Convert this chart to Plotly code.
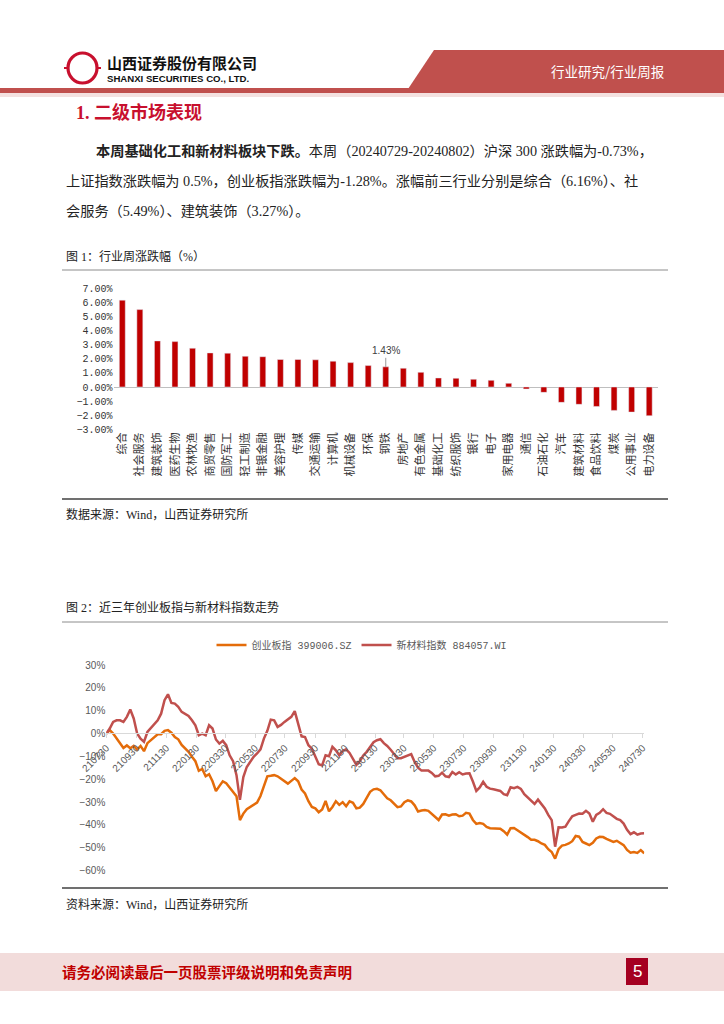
import plotly.graph_objects as go

# ---------------- data ----------------
industries = ["综合", "社会服务", "建筑装饰", "医药生物", "农林牧渔", "商贸零售", "国防军工", "轻工制造",
              "非银金融", "美容护理", "传媒", "交通运输", "计算机", "机械设备", "环保", "钢铁", "房地产",
              "有色金属", "基础化工", "纺织服饰", "银行", "电子", "家用电器", "通信", "石油石化", "汽车",
              "建筑材料", "食品饮料", "煤炭", "公用事业", "电力设备"]
weekly_change = [6.16, 5.49, 3.27, 3.22, 2.75, 2.42, 2.40, 2.18, 2.15, 1.95, 1.95, 1.93, 1.83, 1.73, 1.52,
                 1.43, 1.33, 1.04, 0.64, 0.62, 0.55, 0.47, 0.26, -0.14, -0.38, -1.09, -1.23, -1.38, -1.66,
                 -1.78, -2.04]

dates = [
    "2021-07-30", "2021-08-06", "2021-08-13", "2021-08-20", "2021-08-27", "2021-09-03", "2021-09-10",
    "2021-09-17", "2021-09-24", "2021-10-01", "2021-10-08", "2021-10-15", "2021-10-22", "2021-10-29",
    "2021-11-05", "2021-11-12", "2021-11-19", "2021-11-26", "2021-12-03", "2021-12-10", "2021-12-17",
    "2021-12-24", "2021-12-31",
    "2022-01-07", "2022-01-14", "2022-01-21", "2022-01-28", "2022-02-04", "2022-02-11", "2022-02-18",
    "2022-02-25", "2022-03-04", "2022-03-11", "2022-03-18", "2022-03-25", "2022-04-01", "2022-04-08",
    "2022-04-15", "2022-04-22", "2022-04-29", "2022-05-06", "2022-05-13", "2022-05-20", "2022-05-27",
    "2022-06-03", "2022-06-10", "2022-06-17", "2022-06-24", "2022-07-01", "2022-07-08", "2022-07-15",
    "2022-07-22", "2022-07-29", "2022-08-05", "2022-08-12", "2022-08-19", "2022-08-26", "2022-09-02",
    "2022-09-09", "2022-09-16", "2022-09-23", "2022-09-30", "2022-10-07", "2022-10-14", "2022-10-21",
    "2022-10-28", "2022-11-04", "2022-11-11", "2022-11-18", "2022-11-25", "2022-12-02", "2022-12-09",
    "2022-12-16", "2022-12-23", "2022-12-30",
    "2023-01-06", "2023-01-13", "2023-01-20", "2023-01-27", "2023-02-03", "2023-02-10", "2023-02-17",
    "2023-02-24", "2023-03-03", "2023-03-10", "2023-03-17", "2023-03-24", "2023-03-31", "2023-04-07",
    "2023-04-14", "2023-04-21", "2023-04-28", "2023-05-05", "2023-05-12", "2023-05-19", "2023-05-26",
    "2023-06-02", "2023-06-09", "2023-06-16", "2023-06-23", "2023-06-30", "2023-07-07", "2023-07-14",
    "2023-07-21", "2023-07-28", "2023-08-04", "2023-08-11", "2023-08-18", "2023-08-25", "2023-09-01",
    "2023-09-08", "2023-09-15", "2023-09-22", "2023-09-29", "2023-10-06", "2023-10-13", "2023-10-20",
    "2023-10-27", "2023-11-03", "2023-11-10", "2023-11-17", "2023-11-24", "2023-12-01", "2023-12-08",
    "2023-12-15", "2023-12-22", "2023-12-29",
    "2024-01-05", "2024-01-12", "2024-01-19", "2024-01-26", "2024-02-02", "2024-02-09", "2024-02-16",
    "2024-02-23", "2024-03-01", "2024-03-08", "2024-03-15", "2024-03-22", "2024-03-29", "2024-04-05",
    "2024-04-12", "2024-04-19", "2024-04-26", "2024-05-03", "2024-05-10", "2024-05-17", "2024-05-24",
    "2024-05-31", "2024-06-07", "2024-06-14", "2024-06-21", "2024-06-28", "2024-07-05", "2024-07-12",
    "2024-07-19", "2024-07-26", "2024-08-02"]

chinext = [
    0, 1.5, 0.0, -2.3, -4.4, -6.3, -5.2, -6.4, -5.4, -7.0,
    -5.4, -7.7, -4.2, -2.9, -1.9, -0.3, -0.3, 1.2, 1.5, 0.4,
    -1.5, -2.5, -5.0, -6.3, -8.0, -10.1, -12.1, -16.3, -15.5, -18.7,
    -17.8, -20.9, -25.2, -23.0, -20.9, -21.7, -23.5, -25.1, -27.4, -37.9,
    -35.0, -33.1, -32.1, -31.1, -30.2, -27.3, -22.7, -18.7, -18.5, -18.2,
    -18.7, -19.7, -20.7, -21.9, -20.7, -19.5, -20.9, -24.5, -26.2, -29.6,
    -32.1, -32.7, -34.4, -33.2, -29.5, -34.0, -32.1, -29.6, -31.2, -30.0,
    -31.8, -29.6, -30.3, -32.7, -32.4, -30.8, -28.1, -25.5, -24.4, -24.2,
    -24.8, -26.5, -28.3, -29.2, -30.6, -32.2, -31.9, -30.0, -29.2, -29.7,
    -31.4, -34.1, -33.7, -33.5, -33.8, -35.0, -36.2, -37.8, -35.4, -35.3,
    -35.9, -35.4, -35.3, -36.2, -35.9, -34.7, -35.0, -37.8, -39.5, -39.1,
    -39.5, -40.8, -41.4, -41.4, -41.6, -41.6, -42.7, -44.2, -41.4, -41.3,
    -42.3, -43.2, -44.2, -45.3, -46.5, -46.5, -47.1, -48.1, -48.7, -50.6,
    -51.8, -54.7, -50.6, -49.0, -48.7, -48.1, -47.1, -44.8, -45.1, -47.4,
    -48.1, -48.8, -47.8, -45.9, -45.2, -45.3, -46.1, -46.8, -47.4, -46.9,
    -47.9, -48.8, -50.9, -52.1, -51.8, -52.2, -51.0, -52.4]

new_material = [
    0, 2.2, 5.1, 5.8, 5.8, 5.1, 7.3, 10.5, 6.6, 0.0,
    -2.2, -3.6, 0.7, 2.5, 4.4, 5.8, 8.7, 14.6, 17.2, 13.4,
    13.1, 11.7, 9.5, 8.7, 7.7, 5.8, 3.6, -0.7, 0.0, -0.7,
    3.6, 2.2, -2.6, -4.4, -3.2, -5.1, -9.5, -12.1, -18.2, -29.0,
    -19.0, -14.6, -12.4, -10.2, -8.7, -6.9, -2.2, 1.2, 6.1, 5.8,
    2.9, 3.8, 5.1, 6.1, 7.3, 9.8, 4.7, -1.2, -1.5, -5.1,
    -6.6, -9.8, -13.4, -13.9, -9.5, -9.9, -5.8, -7.3, -9.5, -7.6,
    -6.9, -8.5, -11.4, -13.7, -12.1, -9.6, -8.0, -6.1, -3.8, -2.9,
    -2.5, -4.2, -5.4, -7.1, -8.9, -10.8, -10.8, -10.2, -9.8, -9.0,
    -12.4, -14.9, -16.2, -16.2, -16.2, -17.2, -18.7, -18.5, -17.1, -18.7,
    -19.0, -16.8, -17.9, -16.9, -17.9, -17.5, -17.4, -21.0, -25.1, -23.6,
    -21.1, -23.3, -24.1, -24.4, -24.8, -25.1, -26.5, -27.0, -23.5, -23.9,
    -23.3, -24.2, -26.5, -27.9, -29.5, -30.8, -28.9, -30.9, -32.8, -35.6,
    -37.9, -49.5, -41.0, -41.1, -40.7, -38.3, -36.2, -35.6, -35.0, -35.1,
    -33.8, -35.0, -38.6, -35.6, -34.7, -33.1, -34.7, -35.1, -36.2, -37.3,
    -37.9, -39.4, -42.1, -44.0, -43.2, -44.2, -43.7, -43.6]

tick_dates = ["2021-07-30", "2021-09-30", "2021-11-30", "2022-01-30", "2022-03-30", "2022-05-30",
              "2022-07-30", "2022-09-30", "2022-11-30", "2023-01-30", "2023-03-30", "2023-05-30",
              "2023-07-30", "2023-09-30", "2023-11-30", "2024-01-30", "2024-03-30", "2024-05-30",
              "2024-07-30"]
tick_labels = ["210730", "210930", "211130", "220130", "220330", "220530", "220730", "220930", "221130",
               "230130", "230330", "230530", "230730", "230930", "231130", "240130", "240330", "240530",
               "240730"]

# ---------------- page geometry helpers ----------------
W, H = 724, 1024


def px(x):
    return x / W


def py(y):
    return 1 - y / H


SANS = "Noto Sans CJK SC, sans-serif"
SERIF = "Liberation Serif, Noto Sans CJK SC, serif"

fig = go.Figure()

fig.add_trace(go.Bar(
    x=industries, y=weekly_change, marker_color="#C00000", width=0.34,
    showlegend=False, xaxis="x", yaxis="y", hoverinfo="skip"))

fig.add_trace(go.Scatter(
    x=dates, y=chinext, name="创业板指 399006.SZ", mode="lines",
    line=dict(color="#E46C0A", width=2.5), xaxis="x2", yaxis="y2"))
fig.add_trace(go.Scatter(
    x=dates, y=new_material, name="新材料指数 884057.WI", mode="lines",
    line=dict(color="#C0504D", width=2.5), xaxis="x2", yaxis="y2"))

shapes = []


def rect(x0, y0, x1, y1, fill, line_w=0, line_c=None):
    shapes.append(dict(type="rect", xref="paper", yref="paper",
                       x0=px(x0), x1=px(x1), y0=py(y1), y1=py(y0),
                       fillcolor=fill, line=dict(width=line_w, color=line_c or fill), layer="below"))


def hline(y, x0, x1, color, w):
    shapes.append(dict(type="line", xref="paper", yref="paper",
                       x0=px(x0), x1=px(x1), y0=py(y), y1=py(y),
                       line=dict(color=color, width=w)))


# header
shapes.append(dict(type="path", xref="paper", yref="paper",
                   path=f"M {px(434)},{py(50)} L {px(724)},{py(50)} L {px(724)},{py(89)} L {px(408)},{py(89)} Z",
                   fillcolor="#C0504D", line=dict(width=0), layer="below"))
rect(0, 88, 724, 93, "#C0504D")
rect(0, 93, 724, 97, "#F4E1E0")
# logo
shapes.append(dict(type="circle", xref="paper", yref="paper",
                   x0=px(68), x1=px(97), y0=py(83), y1=py(53),
                   line=dict(color="#C8102E", width=3.2), fillcolor="white"))
rect(75, 61, 90, 75, "white", 2.6, "#C8102E")
rect(79.5, 65, 85.5, 71, "#C8102E")
rect(64, 67, 75, 69, "#C8102E")
rect(90, 67, 101, 69, "#C8102E")

# figure frames
hline(270, 62, 668, "#8C8C8C", 1)
hline(499, 62, 668, "#404040", 1.4)
hline(622, 62, 668, "#8C8C8C", 1)
hline(888, 62, 668, "#404040", 1.4)

# footer
rect(0, 953, 724, 991, "#F2DCDB")
rect(626, 958, 648, 985, "#A50021")

fig.update_layout(shapes=shapes)

ann = []


def text(x, y, s, size, color="#222222", family=SERIF, anchor="left"):
    ann.append(dict(xref="paper", yref="paper", x=px(x), y=py(y), text=s, showarrow=False,
                    xanchor=anchor, yanchor="middle", align="left",
                    font=dict(size=size, color=color, family=family)))


text(105, 62, "<b>山西证券股份有限公司</b>", 15, "#111111", SANS)
text(105, 78, "<b>SHANXI SECURITIES CO., LTD.</b>", 9.6, "#111111", "Liberation Sans, Arial")
text(607, 71, "行业研究/行业周报", 13.5, "white", SANS, "center")

text(74, 112, "<b>1. 二级市场表现</b>", 18, "#C8102E", SERIF)
text(94, 151, "<b>本周基础化工和新材料板块下跌。</b>本周（20240729-20240802）沪深 300 涨跌幅为-0.73%，", 14.2, "#222222", SERIF)
text(64, 181, "上证指数涨跌幅为 0.5%，创业板指涨跌幅为-1.28%。涨幅前三行业分别是综合（6.16%）、社", 14.2, "#222222", SERIF)
text(64, 211, "会服务（5.49%）、建筑装饰（3.27%）。", 14.2, "#222222", SERIF)

text(64, 256, "图 1：行业周涨跌幅（%）", 12, "#222222", SERIF)
text(64, 514, "数据来源：Wind，山西证券研究所", 12, "#222222", SERIF)
text(64, 607, "图 2：近三年创业板指与新材料指数走势", 12, "#222222", SERIF)
text(64, 904, "资料来源：Wind，山西证券研究所", 12, "#222222", SERIF)

text(60, 971, "<b>请务必阅读最后一页股票评级说明和免责声明</b>", 14.5, "#C00000", SANS)
text(637, 971, "5", 17, "white", "Liberation Sans, Arial", "center")

# data label on 钢铁
ann.append(dict(xref="x", yref="y", x="钢铁", y=1.43, text="1.43%", showarrow=True,
                arrowhead=0, arrowwidth=0.8, arrowcolor="#808080", ax=0, ay=-16,
                font=dict(size=10, color="#404040", family="Liberation Sans, Arial")))

fig.update_layout(annotations=ann)

fig.update_layout(
    width=W, height=H, margin=dict(l=0, r=0, t=0, b=0, pad=0, autoexpand=False),
    paper_bgcolor="white", plot_bgcolor="rgba(0,0,0,0)",
    bargap=0.66,
    xaxis=dict(domain=[px(113.5), px(658)], anchor="y", type="category", tickangle=-90,
               tickfont=dict(size=11, color="#333333", family=SANS), showline=False,
               showgrid=False, ticks="", automargin=False),
    yaxis=dict(domain=[py(429.3), py(288.3)], anchor="x", range=[-3, 7], dtick=1,
               tickformat=".2f", ticksuffix="%", showgrid=False, zeroline=True,
               zerolinecolor="#BFBFBF", zerolinewidth=1, showline=False, automargin=False,
               tickfont=dict(size=10, color="#333333", family="Liberation Mono, monospace")),
    xaxis2=dict(domain=[px(106.3), px(644.2)], anchor="free", position=py(733.3), type="date",
                range=["2021-07-30", "2024-08-02"], tickvals=tick_dates, ticktext=tick_labels,
                tickangle=-45, showline=True, linecolor="#D9D9D9", linewidth=1, automargin=False,
                ticks="outside", ticklen=4, tickcolor="#D9D9D9", showgrid=False,
                tickfont=dict(size=10, color="#595959", family="Liberation Sans, Arial")),
    yaxis2=dict(domain=[py(870.7), py(665)], anchor="x2", range=[-60, 30], dtick=10,
                ticksuffix="%", showgrid=False, zeroline=False, showline=False, automargin=False,
                tickfont=dict(size=10, color="#595959", family="Liberation Sans, Arial")),
    legend=dict(orientation="h", x=px(362), xanchor="center", y=py(645), yanchor="middle",
                font=dict(size=10, color="#595959", family="Liberation Mono, Noto Sans CJK SC"),
                bgcolor="rgba(0,0,0,0)", itemwidth=30, tracegroupgap=0),
)

fig.write_html("out.html", config={"displayModeBar": False},
               post_script="document.body.style.margin='0';document.body.style.padding='0';"
                           "document.body.style.overflow='hidden';")
